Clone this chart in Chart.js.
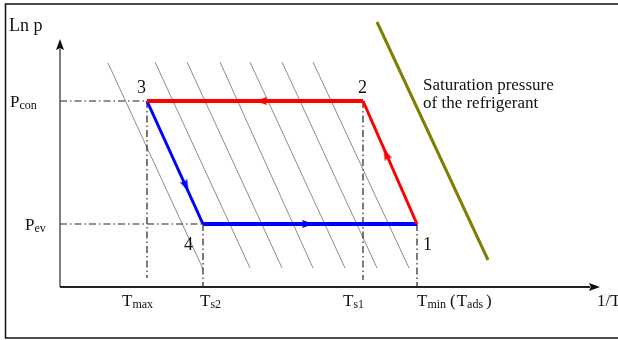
<!DOCTYPE html>
<html>
<head>
<meta charset="utf-8">
<script src="https://cdn.jsdelivr.net/npm/chart.js@4/dist/chart.umd.min.js"></script>
<style>
html,body{margin:0;padding:0;background:#fff;overflow:hidden}
canvas{display:block}
</style>
</head>
<body>
<canvas id="c" width="618" height="340"></canvas>
<script>
// ---------- data (abscissa: 1/T, ordinate: ln p, arbitrary units) ----------
const tickLabels      = ['max', 's2', 's1', 'min'];      // subscripts of T
const tickValues      = [8.7, 14.3, 30.3, 35.7];          // 1/T at Tmax, Ts2, Ts1, Tmin
const tickDropTop     = [18.6, 6.3, 18.6, 6.3];           // ln p where each drop line starts
const tickDropBottom  = [0.9, 0, 0.7, 0];                 // ln p where each drop line ends
const pressureLabels  = ['con', 'ev'];                    // subscripts of P
const pressureValues  = [18.6, 6.3];                      // ln Pcon, ln Pev
const pressureEndX    = [8.7, 14.3];                      // 1/T where dash lines stop
const pointLabels     = ['1', '2', '3', '4'];
const pointX          = [35.7, 30.3, 8.7, 14.3];
const pointY          = [6.3, 18.6, 18.6, 6.3];
const isostereTopX    = [4.8, 9.5, 12.7, 16.0, 19.0, 22.2, 25.3];
const isostereBottomX = [14.3, 19.0, 22.2, 25.3, 28.5, 31.7, 34.9];
const isostereTopY    = [22.4, 22.5, 22.5, 22.5, 22.5, 22.5, 22.5];
const isostereBottomY = [1.8, 1.9, 1.9, 1.9, 1.9, 1.9, 1.9];
const saturationX     = [31.7, 42.8];
const saturationY     = [26.5, 2.7];
const arrowX          = [20.1, 32.6, 12.6, 24.8];
const arrowY          = [18.6, 13.3, 10.1, 6.3];
const arrowRotation   = [270, -23.7, 155.5, 90];
const arrowColor      = ['#ff0000', '#ff0000', '#0000ff', '#0000ff'];
const axisEndX        = 54.0;
const axisEndY        = 24.8;

// ---------- helpers ----------
function arrowImg(color, len, width, tipCentered) {
  const c = document.createElement('canvas');
  c.width = width; c.height = tipCentered ? 2 * len : len;
  const g = c.getContext('2d');
  g.fillStyle = color;
  g.beginPath();
  const top = tipCentered ? len : 0;
  g.moveTo(width / 2, top);
  g.lineTo(width, top + len);
  g.lineTo(width / 2, top + len * 0.85);
  g.lineTo(0, top + len);
  g.closePath();
  g.fill();
  return c;
}
const axisArrow = arrowImg('#111', 11, 8, true);

const line = (pts, color, width, extra) => Object.assign({
  type: 'scatter', data: pts, showLine: true, borderColor: color, borderWidth: width,
  pointRadius: 0, fill: false, clip: false, tension: 0
}, extra || {});

const datasets = [];
// isosteres
isostereTopX.forEach((tx, i) => {
  datasets.push(line([{x: tx, y: isostereTopY[i]}, {x: isostereBottomX[i], y: isostereBottomY[i]}], '#8c8c8c', 1, {order: 10}));
});
// dash-dot guide lines
const dashStyle = {borderDash: [7, 3, 1.5, 3], order: 9};
pressureValues.forEach((p, i) => {
  datasets.push(line([{x: 0, y: p}, {x: pressureEndX[i], y: p}], '#222', 1.2, dashStyle));
});
tickValues.forEach((t, i) => {
  datasets.push(line([{x: t, y: tickDropTop[i]}, {x: t, y: tickDropBottom[i]}], '#222', 1.2, dashStyle));
});
// axes
datasets.push(line([{x: 0, y: 0}, {x: axisEndX - 1, y: 0}], '#222', 2, {order: 8}));
datasets.push(line([{x: 0, y: 0}, {x: 0, y: axisEndY - 1}], '#555', 1.5, {order: 8}));
datasets.push({type: 'scatter', data: [{x: axisEndX, y: 0}, {x: 0, y: axisEndY}],
  pointStyle: axisArrow, pointRotation: [90, 0], pointRadius: 5, clip: false, order: 1});
// saturation curve
datasets.push(line(saturationX.map((x, i) => ({x, y: saturationY[i]})), '#7f7f00', 3, {order: 7}));
// cycle: 1-2-3-4 (index 0..3 = points 1..4)
const P = i => ({x: pointX[i], y: pointY[i]});
datasets.push(line([P(2), P(1)], '#ff0000', 4, {order: 5}));   // 2 -> 3
datasets.push(line([P(1), P(0)], '#ff0000', 3, {order: 5}));   // 1 -> 2
datasets.push(line([P(2), P(3)], '#0000ff', 3, {order: 5}));   // 3 -> 4
datasets.push(line([P(3), P(0)], '#0000ff', 4, {order: 5}));   // 4 -> 1
// direction arrows
datasets.push({type: 'scatter', data: arrowX.map((x, i) => ({x, y: arrowY[i]})),
  pointStyle: arrowColor.map(c => arrowImg(c, 12, 8, false)),
  pointRotation: arrowRotation, pointRadius: 5, clip: false, order: 2});

// ---------- text ----------
const F = '"Liberation Serif", "Times New Roman", serif';
function subText(ctx, main, sub, left, base, size, subSize) {
  ctx.font = size + 'px ' + F;
  ctx.fillText(main, left, base);
  const w = ctx.measureText(main).width;
  ctx.font = subSize + 'px ' + F;
  ctx.fillText(sub, left + w, base + 2);
  return left + w + ctx.measureText(sub).width;
}
const textPlugin = {
  id: 'texts',
  afterDraw(chart) {
    const {ctx, scales: {x, y}} = chart;
    ctx.save();
    ctx.fillStyle = '#111';
    ctx.textBaseline = 'alphabetic';
    ctx.textAlign = 'left';
    // frame
    ctx.strokeStyle = '#111';
    ctx.lineWidth = 1.5;
    ctx.strokeRect(5.5, 4, 640, 334);
    // axis titles
    ctx.font = '18px ' + F;
    ctx.fillText('Ln p', 9, 31);
    ctx.font = '17px ' + F;
    ctx.fillText('1/T', 597, 306);
    // pressure labels
    const pLeft = [10, 25];
    pressureLabels.forEach((s, i) => {
      subText(ctx, 'P', s, pLeft[i], y.getPixelForValue(pressureValues[i]) + 6, 17, 12);
    });
    // temperature tick labels
    const tOff = [-25, -3, -20, 0];
    tickLabels.forEach((s, i) => {
      const left = x.getPixelForValue(tickValues[i]) + tOff[i];
      let end = subText(ctx, 'T', s, left, 306, 17, 12);
      if (s === 'min') {
        ctx.font = '17px ' + F;
        ctx.fillText('(', end + 4, 306);
        end = subText(ctx, 'T', 'ads', end + 5 + ctx.measureText('(').width, 306, 17, 12);
        ctx.font = '17px ' + F;
        ctx.fillText(')', end + 3, 306);
      }
    });
    // state point numbers
    const nOff = [[6, 26], [-5, -8], [-10, -8], [-19, 26]];
    ctx.font = '18px ' + F;
    pointLabels.forEach((s, i) => {
      ctx.fillText(s, x.getPixelForValue(pointX[i]) + nOff[i][0], y.getPixelForValue(pointY[i]) + nOff[i][1]);
    });
    // saturation label
    ctx.font = '17px ' + F;
    ctx.fillText('Saturation pressure', 423, 90);
    ctx.fillText('of the refrigerant', 423, 108);
    ctx.restore();
  }
};

new Chart(document.getElementById('c'), {
  type: 'scatter',
  data: {datasets},
  options: {
    responsive: false,
    animation: false,
    devicePixelRatio: 1,
    layout: {padding: 0, autoPadding: false},
    plugins: {legend: {display: false}, tooltip: {enabled: false}},
    scales: {
      x: {type: 'linear', display: false, min: -6, max: 55.8},
      y: {type: 'linear', display: false, min: -5.3, max: 28.7}
    }
  },
  plugins: [textPlugin]
});
</script>
</body>
</html>
